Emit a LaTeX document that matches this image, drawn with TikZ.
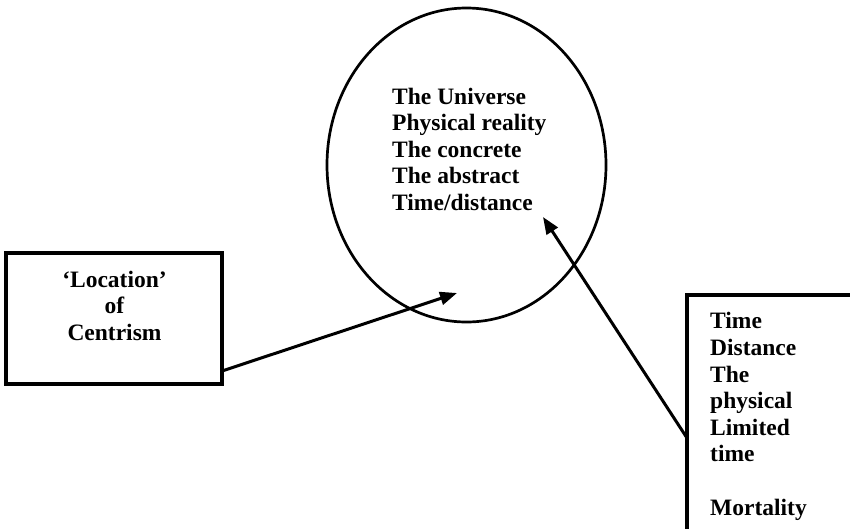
\documentclass[tikz,border=0pt]{standalone}
\usepackage{fontspec}
\setmainfont{Liberation Serif}
\usepackage{tikz}
\usetikzlibrary{shapes,arrows.meta,positioning,calc}

\begin{document}
\begin{tikzpicture}[
    x=1pt, y=-1pt,
    sidebox/.style={rectangle, draw=black, line width=3.2pt, inner sep=0pt, outer sep=0pt},
    oval/.style={ellipse, draw=black, line width=2.7pt, inner sep=0pt, minimum width=279pt, minimum height=314pt},
    txt/.style={inner sep=0pt, font=\fontsize{23.5}{26.4}\selectfont\bfseries},
    arrow/.style={-{Triangle[length=17pt,width=13pt]}, line width=3pt, draw=black}
]
    \useasboundingbox (0,0) rectangle (850,528);
    \clip (0,0) rectangle (850,528);

    \node [oval] (universe) at (466.5,165) {};
    \node [sidebox, minimum width=216pt, minimum height=131pt] (lbox) at (114,318.5) {};
    \node [sidebox, minimum width=168pt, minimum height=240pt] (rbox) at (771,415) {};

    \node [txt, align=left, anchor=base west] (univtext) at (392,210)
        {The Universe\\Physical reality\\The concrete\\The abstract\\Time/distance};
    \node [txt, align=center, anchor=base] (loctext) at (114.5,340)
        {‘Location’\\of\\Centrism};
    \node [txt, align=left, anchor=base west, font=\fontsize{23.5}{26.6}\selectfont\bfseries] (timetext) at (710,515)
        {Time\\Distance\\The\\physical\\Limited\\time\\~\\Mortality};

    \coordinate (ltip) at (457,293);
    \coordinate (rtip) at (543,217);

    \draw [arrow] ([yshift=13pt]lbox.south east) -- (ltip);
    \draw [arrow] ([yshift=-143pt]rbox.north west) -- (rtip);
\end{tikzpicture}
\end{document}
